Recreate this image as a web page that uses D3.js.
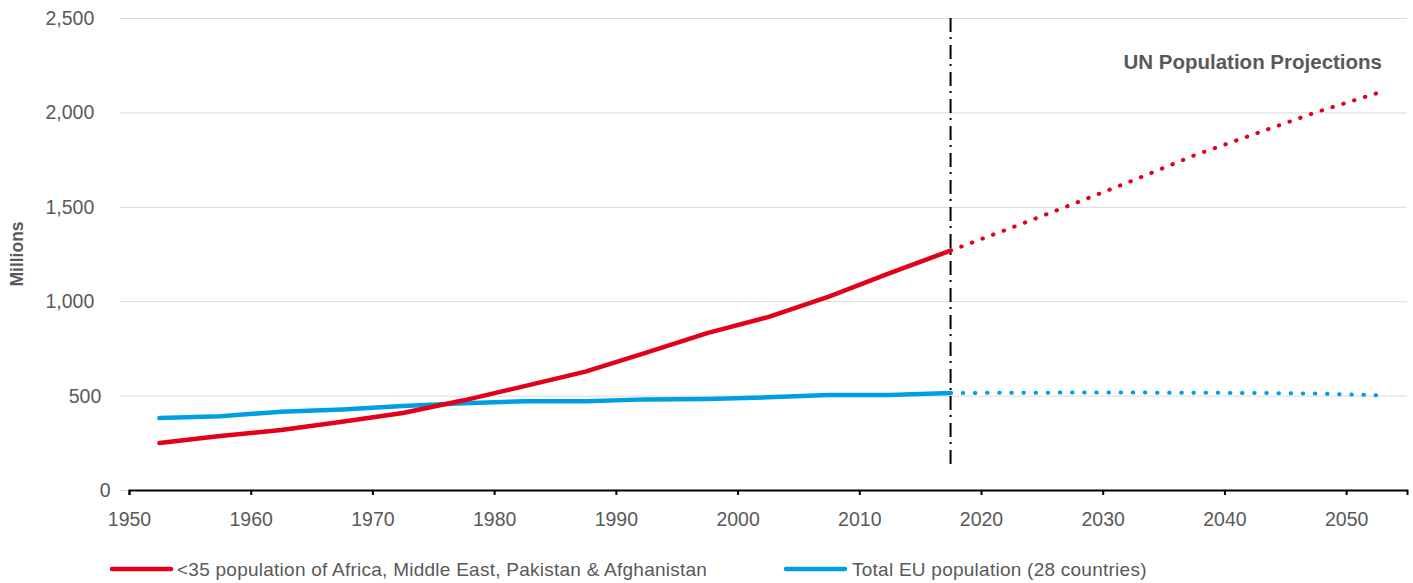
<!DOCTYPE html>
<html>
<head>
<meta charset="utf-8">
<script src="https://cdn.jsdelivr.net/npm/d3@7"></script>
<style>
  body { margin: 0; background: #fff; }
  text { font-family: "Liberation Sans", Arial, sans-serif; }
</style>
</head>
<body>
<div class="chart"></div>
<script>
// data (5-year period midpoints)
var years = [1952.5, 1957.5, 1962.5, 1967.5, 1972.5, 1977.5, 1982.5, 1987.5, 1992.5, 1997.5, 2002.5, 2007.5, 2012.5, 2017.5];
var youngAfrica = [249, 286, 318, 362, 408, 475, 550, 627, 728, 831, 916, 1024, 1149, 1268];
var euTotal = [381, 390, 415, 427, 445, 459, 470, 470, 480, 482, 491, 503, 503, 514];

var projYears = [2017.5, 2022.5, 2027.5, 2032.5, 2037.5, 2042.5, 2047.5, 2052.5];
var youngAfricaProj = [1268, 1389, 1513, 1640, 1772, 1886, 2000, 2101];
var euTotalProj = [514, 515, 516, 516, 515, 514, 511, 502];

var xTicks = [1950, 1960, 1970, 1980, 1990, 2000, 2010, 2020, 2030, 2040, 2050];
var yTicks = [0, 500, 1000, 1500, 2000, 2500];
var splitYear = 2017.5;

var seriesNames = ["<35 population of Africa, Middle East, Pakistan & Afghanistan", "Total EU population (28 countries)"];
var red = "#e2001a";
var blue = "#009fe3";
var grey = "#595959";

var width = 1413, height = 583;

var svg = d3.select(".chart").append("svg")
  .attr("width", width)
  .attr("height", height);

var x = d3.scaleLinear().domain([1950, 2055]).range([129, 1407]);
var y = d3.scaleLinear().domain([0, 2500]).range([490, 18]);

// gridlines
svg.append("g")
  .selectAll("line")
  .data(yTicks)
  .enter()
  .append("line")
  .attr("x1", 120)
  .attr("x2", 1407)
  .attr("y1", d => y(d) + 0.5)
  .attr("y2", d => y(d) + 0.5)
  .attr("stroke", "#d9d9d9")
  .attr("stroke-width", 1);

// y labels (the original ones are not cleanly right aligned)
svg.append("g")
  .selectAll("text")
  .data(yTicks)
  .enter()
  .append("text")
  .attr("y", d => y(d) + 7)
  .attr("font-size", 19.5)
  .attr("fill", grey)
  .text(d => d3.format(",")(d))
  .attr("x", function () {
    var w = this.getComputedTextLength();
    return 115.3 - 1.43 * w;
  });

svg.append("text")
  .attr("transform", "translate(23,254) rotate(-90)")
  .attr("text-anchor", "middle")
  .attr("font-size", 17.5)
  .attr("font-weight", "bold")
  .attr("fill", grey)
  .text("Millions");

// x axis
var xAxis = d3.axisBottom(x).tickValues(xTicks).tickSize(5).tickPadding(17).tickFormat(d3.format("d"));
var gx = svg.append("g")
  .attr("transform", "translate(0,490)")
  .call(xAxis);
gx.select(".domain").attr("stroke", "#000").attr("stroke-width", 2);
gx.selectAll(".tick line").attr("stroke", "#000").attr("stroke-width", 2);
gx.selectAll(".tick text")
  .attr("font-size", 19.5)
  .attr("fill", grey)
  .style("font-family", "'Liberation Sans', Arial, sans-serif");

// projection marker line
svg.append("line")
  .attr("x1", x(splitYear))
  .attr("x2", x(splitYear))
  .attr("y1", y(2500))
  .attr("y2", 469)
  .attr("stroke", "#000")
  .attr("stroke-width", 2)
  .attr("stroke-dasharray", "14,5,2,6");

var line = d3.line().x(d => x(d[0])).y(d => y(d[1]));

// step = wanted spacing between dots; snapped so the last dot lands near the end
function drawSeries(xs, vs, color, step) {
  var path = svg.append("path")
    .datum(d3.zip(xs, vs))
    .attr("d", line)
    .attr("fill", "none")
    .attr("stroke", color)
    .attr("stroke-linejoin", "round")
    .attr("stroke-linecap", "round");
  if (step) {
    var len = path.node().getTotalLength() - 1;
    var n = Math.round(len / step);
    path.attr("stroke-width", 4)
      .attr("stroke-dasharray", `0.5,${len / n - 0.5}`);
  } else {
    path.attr("stroke-width", 4.5);
  }
}

drawSeries(years, euTotal, blue);
drawSeries(years, youngAfrica, red);
drawSeries(projYears, euTotalProj, blue, 12.2);
drawSeries(projYears, youngAfricaProj, red, 11.4);

svg.append("text")
  .attr("x", 1382)
  .attr("y", 69)
  .attr("text-anchor", "end")
  .attr("font-size", 20.5)
  .attr("font-weight", "bold")
  .attr("fill", grey)
  .text("UN Population Projections");

// legend
var legend = svg.append("g").selectAll("g")
  .data(seriesNames)
  .enter()
  .append("g")
  .attr("transform", (d, i) => `translate(${i ? 786 : 112},569)`);
legend.append("line")
  .attr("x1", 0).attr("x2", 59)
  .attr("stroke", (d, i) => i ? blue : red)
  .attr("stroke-width", 4.5)
  .attr("stroke-linecap", "round");
legend.append("text")
  .attr("x", (d, i) => i ? 66 : 65)
  .attr("y", 7)
  .attr("font-size", 19)
  .attr("letter-spacing", 0.25)
  .attr("fill", grey)
  .text(d => d);
</script>
</body>
</html>
